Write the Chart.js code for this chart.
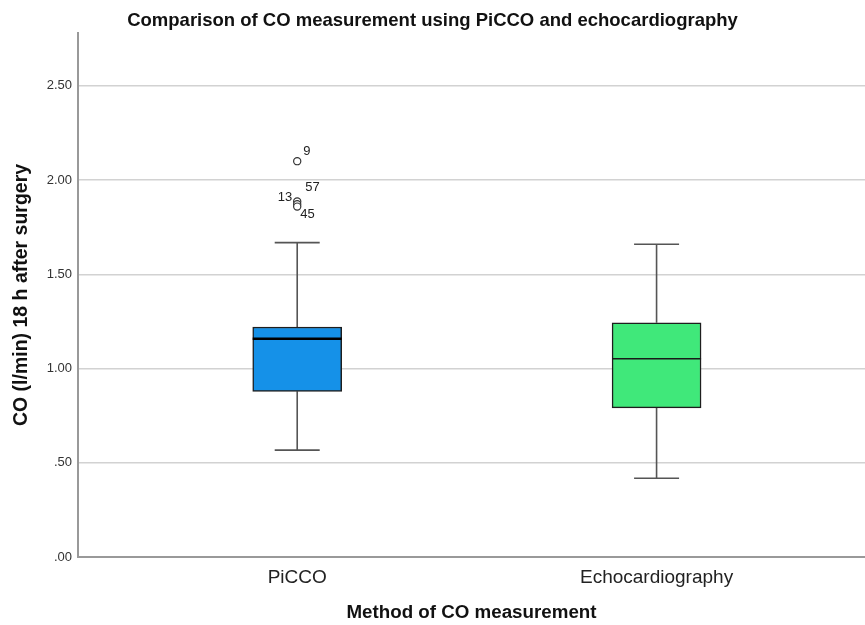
<!DOCTYPE html>
<html>
<head>
<meta charset="utf-8">
<script src="https://cdn.jsdelivr.net/npm/chart.js@4.4.1/dist/chart.umd.min.js"></script>
<style>
html,body{margin:0;padding:0;background:#fff;overflow:hidden}
#wrap{width:865px;height:625px;position:relative}
</style>
</head>
<body>
<div id="wrap"><canvas id="c"></canvas></div>
<script>
// ---- data ----
const categories = ["PiCCO", "Echocardiography"];
const whiskerLow = [0.567, 0.418];
const q1 = [0.879, 0.791];
const median = [1.158, 1.052];
const q3 = [1.220, 1.243];
const whiskerHigh = [1.668, 1.659];
const outlierGroup = ["PiCCO", "PiCCO", "PiCCO", "PiCCO"];
const outlierValues = [2.10, 1.886, 1.872, 1.859];
const outlierIds = ["9", "57", "13", "45"];
const yTicks = [0, 0.5, 1.0, 1.5, 2.0, 2.5];

const FONT = '"Liberation Sans", Arial, Helvetica, sans-serif';
const pos = c => categories.indexOf(c) + 1;

const boxData = categories.map((c, i) => ({x: i + 1, y: [q1[i], q3[i]]}));
const whiskerData = [];
categories.forEach((c, i) => {
  whiskerData.push({x: i + 1, y: whiskerHigh[i]}, {x: i + 1, y: q3[i]}, {x: i + 1, y: null},
                   {x: i + 1, y: q1[i]}, {x: i + 1, y: whiskerLow[i]}, {x: i + 1, y: null});
});
const capData = [];
categories.forEach((c, i) => {
  capData.push({x: i + 1, y: whiskerHigh[i]}, {x: i + 1, y: whiskerLow[i]});
});
const medianData = categories.map((c, i) => ({x: i + 1, y: median[i]}));
const outlierData = outlierValues.map((v, i) => ({x: pos(outlierGroup[i]), y: v}));

const outlierLabelPlugin = {
  id: 'outlierLabels',
  afterDatasetsDraw(chart) {
    const offsets = [[6, -10, 'left'], [8, -14, 'left'], [-5, -7, 'right'], [3, 8, 'left']];
    const meta = chart.getDatasetMeta(4);
    const ctx = chart.ctx;
    ctx.save();
    ctx.font = '13px ' + FONT;
    ctx.fillStyle = '#222';
    ctx.textBaseline = 'middle';
    meta.data.forEach((pt, i) => {
      const o = offsets[i] || [6, -8, 'left'];
      ctx.textAlign = o[2];
      ctx.fillText(outlierIds[i], pt.x + o[0], pt.y + o[1]);
    });
    ctx.restore();
  }
};

new Chart(document.getElementById('c'), {
  type: 'bar',
  data: {
    datasets: [
      {
        type: 'bar',
        data: boxData,
        backgroundColor: ['#1591e8', '#40e87a'],
        borderColor: '#1e1e1e',
        borderWidth: 1.5,
        borderSkipped: false,
        barThickness: 89,
        order: 3
      },
      {
        type: 'line',
        data: whiskerData,
        borderColor: '#555',
        borderWidth: 1.6,
        pointRadius: 0,
        spanGaps: false,
        fill: false,
        order: 4
      },
      {
        type: 'scatter',
        data: capData,
        pointStyle: 'line',
        pointRadius: 22.5,
        pointBorderColor: '#555',
        pointBorderWidth: 1.6,
        order: 2
      },
      {
        type: 'scatter',
        data: medianData,
        pointStyle: 'line',
        pointRadius: 44.5,
        pointBorderColor: ['#000', '#1a1a1a'],
        pointBorderWidth: [2.5, 1.5],
        order: 1
      },
      {
        type: 'scatter',
        data: outlierData,
        pointStyle: 'circle',
        pointRadius: 3.6,
        pointBackgroundColor: '#fff',
        pointBorderColor: '#333',
        pointBorderWidth: 1.2,
        order: 0
      }
    ]
  },
  options: {
    responsive: true,
    maintainAspectRatio: false,
    animation: false,
    events: [],
    layout: {autoPadding: false, padding: {left: 0, right: 0, top: 0, bottom: 0}},
    plugins: {
      legend: {display: false},
      tooltip: {enabled: false},
      title: {
        display: true,
        text: 'Comparison of CO measurement using PiCCO and echocardiography',
        color: '#111',
        font: {family: FONT, size: 18.5, weight: 'bold'},
        padding: {top: 10, bottom: 0.8}
      }
    },
    scales: {
      x: {
        type: 'linear',
        min: 0.39,
        max: 2.58,
        offset: false,
        afterBuildTicks: s => { s.ticks = categories.map((c, i) => ({value: i + 1})); },
        afterFit: s => { s.height = 68; s.paddingLeft = 0; s.paddingRight = 0; },
        grid: {display: false, drawTicks: false, offset: false},
        border: {display: true, color: '#999', width: 2},
        ticks: {
          padding: 9,
          color: '#222',
          font: {family: FONT, size: 19},
          maxRotation: 0,
          autoSkip: false,
          callback: v => categories[Math.round(v) - 1]
        },
        title: {
          display: true,
          text: 'Method of CO measurement',
          color: '#111',
          font: {family: FONT, size: 18.75, weight: 'bold'},
          padding: {top: 0, bottom: 0.75}
        }
      },
      y: {
        type: 'linear',
        min: 0,
        max: 2.78,
        afterBuildTicks: s => { s.ticks = yTicks.map(v => ({value: v})); },
        afterFit: s => { s.width = 78; s.paddingTop = 0; s.paddingBottom = 0; },
        grid: {color: '#d2d2d2', lineWidth: 1.5, drawTicks: false},
        border: {display: true, color: '#999', width: 2},
        ticks: {
          padding: 6,
          color: '#333',
          font: {family: FONT, size: 13},
          callback: v => Number(v).toFixed(2).replace(/^0/, '')
        },
        title: {
          display: true,
          text: 'CO (l/min) 18 h after surgery',
          color: '#111',
          font: {family: FONT, size: 19.5, weight: 'bold'},
          padding: {top: 10.3, bottom: 0}
        }
      }
    }
  },
  plugins: [outlierLabelPlugin]
});
</script>
</body>
</html>
